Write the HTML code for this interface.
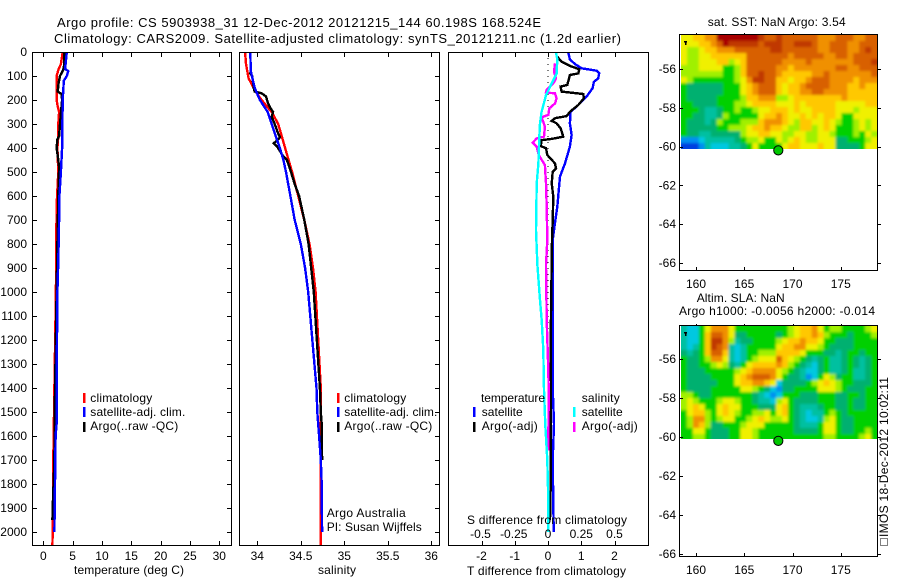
<!DOCTYPE html>
<html lang="en">
<head>
<meta charset="utf-8">
<title>Argo profile</title>
<style>
html,body{margin:0;padding:0;background:#fff}
svg{display:block}
text{font-family:"Liberation Sans",sans-serif;font-size:12px;fill:#000}
.t{font-size:13px}
</style>
</head>
<body>
<svg id="chart" xmlns="http://www.w3.org/2000/svg" width="900" height="580" viewBox="0 0 900 580">
  <defs>
    <filter id="soft" x="-5%" y="-5%" width="110%" height="110%"><feGaussianBlur stdDeviation="1.3"/></filter>
    <clipPath id="clip-sst-map"><rect x="681" y="35" width="196" height="114"/></clipPath>
    <clipPath id="clip-sla-map"><rect x="681" y="326" width="196" height="113"/></clipPath>
  </defs>
  <rect x="0" y="0" width="900" height="580" fill="#fff"/>
  <g id="marks"></g>

  <text class="t" x="57" y="27" textLength="484" lengthAdjust="spacing">Argo profile: CS 5903938_31 12-Dec-2012 20121215_144 60.198S 168.524E</text>
  <text class="t" x="54" y="43" textLength="567" lengthAdjust="spacing">Climatology: CARS2009. Satellite-adjusted climatology: synTS_20121211.nc (1.2d earlier)</text>

  <text x="74" y="574" textLength="110" lengthAdjust="spacing">temperature (deg C)</text>
  <text x="318" y="574" textLength="38" lengthAdjust="spacing">salinity</text>
  <text x="467" y="575" textLength="159" lengthAdjust="spacing">T difference from climatology</text>
  <text x="467" y="524" textLength="160" lengthAdjust="spacing">S difference from climatology</text>

  <g>
    <rect x="83" y="393" width="2.5" height="10" fill="#f00"/>
    <text x="90.3" y="402" textLength="62" lengthAdjust="spacing">climatology</text>
    <rect x="83" y="407" width="2.5" height="10" fill="#00f"/>
    <text x="90.3" y="416" textLength="95" lengthAdjust="spacing">satellite-adj. clim.</text>
    <rect x="83" y="422" width="2.5" height="10" fill="#000"/>
    <text x="90.3" y="430" textLength="88" lengthAdjust="spacing">Argo(..raw -QC)</text>
  </g>
  <g>
    <rect x="337" y="393" width="2.5" height="10" fill="#f00"/>
    <text x="344.3" y="402" textLength="62" lengthAdjust="spacing">climatology</text>
    <rect x="337" y="407" width="2.5" height="10" fill="#00f"/>
    <text x="344.3" y="416" textLength="93" lengthAdjust="spacing">satellite-adj. clim.</text>
    <rect x="337" y="422" width="2.5" height="10" fill="#000"/>
    <text x="344.3" y="430" textLength="88" lengthAdjust="spacing">Argo(..raw -QC)</text>
  </g>
  <text x="326.7" y="517" textLength="79" lengthAdjust="spacing">Argo Australia</text>
  <text x="326.7" y="531" textLength="95" lengthAdjust="spacing">PI: Susan Wijffels</text>

  <g>
    <text x="481" y="402" textLength="64" lengthAdjust="spacing">temperature</text>
    <rect x="473" y="407" width="2.5" height="10" fill="#00f"/>
    <text x="481.7" y="416" textLength="41" lengthAdjust="spacing">satellite</text>
    <rect x="473" y="422" width="2.5" height="10" fill="#000"/>
    <text x="481.7" y="430" textLength="56" lengthAdjust="spacing">Argo(-adj)</text>
    <text x="581.7" y="402" textLength="38" lengthAdjust="spacing">salinity</text>
    <rect x="573" y="407" width="2.5" height="10" fill="#0ff"/>
    <text x="581.7" y="416" textLength="41" lengthAdjust="spacing">satellite</text>
    <rect x="573" y="422" width="2.5" height="10" fill="#f0f"/>
    <text x="581.7" y="430" textLength="56" lengthAdjust="spacing">Argo(-adj)</text>
  </g>

  <text x="707.7" y="26" textLength="138" lengthAdjust="spacing">sat. SST: NaN Argo: 3.54</text>
  <text x="696.7" y="302" textLength="88" lengthAdjust="spacing">Altim. SLA: NaN</text>
  <text x="679" y="315" textLength="196" lengthAdjust="spacing">Argo h1000: -0.0056 h2000: -0.014</text>

  <rect x="880.5" y="538.5" width="7" height="7" fill="#fff" stroke="#000" stroke-width="1" stroke-dasharray="1 1" shape-rendering="crispEdges"/>
  <text transform="translate(888,537) rotate(-90)" x="0" y="0" textLength="160" lengthAdjust="spacing">IMOS 18-Dec-2012 10:02:11</text>
</svg>
<script>
// ---------- tick labels ----------
const depthTicks = [0,100,200,300,400,500,600,700,800,900,1000,1100,1200,1300,1400,1500,1600,1700,1800,1900,2000];
const tempTicks = [0,5,10,15,20,25,30];
const salinityTicks = [34,34.5,35,35.5,36];
const tDiffTicks = [-2,-1,0,1,2];
const sDiffTicks = [-0.5,-0.25,0,0.25,0.5];
const lonTicks = [160,165,170,175];
const latTicks = [-56,-58,-60,-62,-64,-66];

// ---------- temperature profiles ----------
const tempClimDepth = [0,50,75,100,150,200,220,250,300,350,400,500,640,1000,1400,1700,2000,2054];
const tempClimValue = [3.3,3.0,2.55,2.27,2.27,2.27,2.4,2.7,2.55,2.55,2.4,2.55,2.27,2.15,1.9,1.7,1.6,1.55];
const tempSatDepth = [0,50,70,80,100,120,200,300,400,500,600,700,870,1000,1400,1550,1600,1800,2000];
const tempSatValue = [4.0,3.8,3.7,4.25,4.0,3.5,3.3,3.25,3.2,3.0,2.75,2.7,2.55,2.4,2.27,2.27,2.1,2.0,1.9];
const tempArgoDepth = [0,50,75,100,130,165,175,200,270,300,350,365,400,450,480,600,800,1000,1500,1700,1900,1950];
const tempArgoValue = [3.6,3.6,3.4,2.85,2.6,2.45,3.1,3.2,2.95,2.85,2.7,2.4,2.27,2.55,2.7,2.55,2.4,2.27,1.95,1.9,1.6,1.55];

// ---------- salinity profiles ----------
const salClimDepth = [0,50,80,110,130,160,200,250,300,350,400,500,600,700,800,900,1000,1400,2054];
const salClimValue = [33.86,33.87,33.885,33.9,33.93,33.97,34.05,34.165,34.24,34.28,34.32,34.4,34.47,34.54,34.6,34.64,34.67,34.73,34.73];
const salSatDepth = [0,80,120,150,200,250,300,350,400,450,500,600,700,800,900,1000,1400,1500,1600,1700,1800,2000];
const salSatValue = [33.92,33.925,33.95,33.97,34.03,34.12,34.165,34.21,34.26,34.3,34.33,34.38,34.43,34.5,34.55,34.585,34.68,34.69,34.71,34.73,34.74,34.745];
const salArgoDepth = [0,80,90,100,150,165,172,185,210,230,250,270,300,340,355,365,380,395,430,450,480,550,600,700,800,900,1000,1400,1500,1550,1700];
const salArgoValue = [33.92,33.925,33.92,33.94,33.96,33.97,34.05,34.1,34.12,34.145,34.18,34.165,34.2,34.24,34.26,34.24,34.19,34.23,34.29,34.34,34.37,34.43,34.48,34.54,34.59,34.62,34.65,34.72,34.73,34.74,34.745];

// ---------- difference profiles ----------
const tDiffSatDepth = [3,31,50,68,78,89,110,124,151,186,221,249,297,346,394,464,519,644,742,783,1000,1400,1550,1700,2000];
const tDiffSatValue = [0.61,0.66,0.81,1.01,1.46,1.54,1.51,1.38,1.34,1.16,0.91,0.68,0.66,0.71,0.66,0.51,0.36,0.28,0.18,0.14,0.14,0.14,0.18,0.14,0.17];
const tDiffArgoDepth = [17,40,58,72,89,96,137,144,165,175,193,221,249,267,276,287,297,318,353,362,367,392,401,429,464,485,499,547,603,700,783,1000,1200,1400,1600,1800,1950];
const tDiffArgoValue = [0.26,0.41,0.66,0.94,0.91,0.66,0.58,0.38,0.41,1.06,1.08,0.91,0.66,0.56,0.21,0.11,0.26,0.38,0.46,0.11,-0.19,-0.22,-0.06,-0.02,0.21,0.24,0.14,0.11,0.16,0.14,0.12,0.1,0.08,0.09,0.08,0.08,0.06];
const sDiffSatDepth = [3,31,89,131,180,249,297,346,464,547,742,888,1033,1117,1242,1408,1554,1700,1867,2000];
const sDiffSatValue = [0.06,0.07,0.065,0.028,-0.015,-0.048,-0.06,-0.065,-0.0725,-0.085,-0.09,-0.08,-0.06,-0.047,-0.035,-0.03,-0.02,-0.005,0.002,0.002];
const sDiffArgoDepth = [47,82,110,131,158,169,172,193,214,235,262,272,311,353,360,378,394,429,471,547,644,783,888,1117,1325,1408,1660];
const sDiffArgoValue = [0.053,0.045,0.06,0.04,-0.01,-0.015,0.053,0.065,0.053,0.01,0.002,-0.048,-0.023,-0.03,-0.085,-0.115,-0.085,-0.07,-0.023,-0.015,-0.01,-0.005,-0.015,-0.01,0.002,0.005,0.002];

// ---------- map fields (colour class per cell, north row first) ----------
const sstLevels = [
[7,7,8,8,9,9,12,12,12,12,12,12,12,11,10,10,11,10,10,10,10,10,10,9,9,9,10,10,10,9,9,10,10],
[7,7,7,8,8,9,10,12,11,11,11,11,11,10,11,11,11,10,10,11,11,11,10,9,9,10,10,10,9,9,10,10,10],
[7,6,6,7,8,8,9,9,9,10,10,10,10,10,10,11,11,10,10,10,10,10,10,9,9,10,10,10,9,9,10,11,10],
[7,6,6,7,7,8,8,8,8,8,8,10,10,10,10,10,10,10,9,10,10,10,10,10,9,9,10,10,9,10,10,10,10],
[7,6,6,7,7,7,8,8,6,7,8,10,10,10,10,10,10,9,9,9,9,10,9,9,9,9,9,9,9,10,10,10,11],
[6,6,6,7,7,7,7,5,5,6,8,10,10,10,10,10,9,9,8,9,9,9,9,9,9,9,10,10,9,9,10,10,10],
[6,6,6,6,6,6,6,5,5,6,8,10,10,11,10,10,9,8,8,8,8,8,9,9,10,9,9,9,9,9,9,9,10],
[7,6,5,5,5,5,5,5,5,6,7,9,11,11,10,10,8,8,7,8,8,9,10,10,10,9,9,9,9,8,9,9,9],
[5,4,4,4,4,4,4,5,5,5,7,8,9,10,10,10,8,7,8,8,9,10,10,10,10,9,9,9,8,8,9,8,8],
[5,4,4,4,4,4,4,5,5,5,7,8,9,10,10,10,8,7,8,8,9,9,10,10,9,9,9,9,8,8,8,8,8],
[5,4,4,4,4,4,5,5,5,5,6,8,8,9,9,9,6,6,7,8,8,8,8,8,8,8,8,9,8,8,8,8,8],
[5,5,4,4,4,4,5,5,5,6,6,7,8,8,8,8,7,7,7,8,7,8,8,8,8,8,7,7,7,7,7,8,8],
[5,5,5,4,3,3,4,5,5,6,5,5,6,7,7,8,8,8,7,8,7,7,8,8,8,8,7,7,7,6,7,7,7],
[5,5,4,4,3,3,4,6,5,5,5,5,5,7,8,8,9,8,7,7,8,7,8,7,8,8,7,5,5,7,7,7,7],
[5,4,4,4,3,4,6,5,5,5,6,6,6,8,9,9,9,8,7,6,8,8,7,7,8,7,6,5,5,6,7,6,7],
[5,4,4,4,4,4,5,5,6,6,6,7,8,8,9,8,8,7,6,6,8,8,6,7,8,7,5,5,5,6,7,6,7],
[5,4,4,3,3,4,4,4,4,4,6,7,7,8,8,7,7,6,6,7,7,6,6,7,7,6,5,5,5,6,5,7,6],
[1,1,1,2,3,3,3,3,3,4,5,6,6,7,5,5,7,6,7,8,7,6,6,7,7,7,4,4,5,5,5,6,7],
[0,0,0,1,3,2,2,2,3,3,4,5,7,5,5,5,5,7,8,8,7,7,7,8,7,7,4,4,4,4,5,7,7]
];
const slaLevels = [
[3,2,2,5,7,9,9,9,7,5,5,5,5,5,5,5,5,5,6,7,8,8,9,7,5,6,6,5,5,5,5,6,7],
[3,2,2,5,8,10,10,9,7,4,4,5,5,5,5,5,4,5,6,7,8,8,9,8,6,5,5,5,4,5,5,5,6],
[3,2,2,5,8,11,11,9,6,3,4,4,5,5,5,5,6,7,8,8,9,8,8,7,5,5,4,4,4,5,5,5,5],
[3,2,3,5,8,11,10,9,3,2,3,5,5,5,5,5,7,8,8,9,9,7,7,6,5,4,4,4,4,5,5,5,5],
[4,3,4,5,8,10,10,8,3,2,3,5,5,6,6,6,8,8,8,8,7,5,5,5,4,4,3,4,5,5,4,5,5],
[5,4,4,5,6,9,9,7,3,2,3,5,6,7,7,7,10,8,7,6,5,4,3,4,5,3,3,4,5,4,3,4,5],
[5,4,4,5,5,6,7,6,4,3,5,7,8,8,8,8,9,8,6,5,4,3,2,4,5,3,3,4,5,4,3,4,5],
[5,4,4,4,5,5,5,5,5,6,7,8,9,9,9,9,7,6,5,4,3,2,2,4,5,3,3,4,5,3,3,4,5],
[5,4,4,4,4,5,5,5,5,7,8,9,10,10,10,9,7,5,4,4,3,1,2,5,7,6,4,5,5,3,3,4,5],
[5,4,4,4,4,4,5,5,5,7,8,8,9,9,8,7,2,4,4,4,4,5,6,7,8,7,6,5,5,4,4,4,5],
[5,4,4,4,4,5,5,5,5,5,7,7,6,5,4,2,1,4,4,5,5,5,5,7,7,7,6,5,4,4,4,5,5],
[6,6,5,4,4,5,5,5,5,5,5,5,4,3,2,1,2,5,5,5,4,4,4,5,5,5,4,4,5,5,4,5,5],
[6,7,6,5,5,5,6,7,7,6,5,5,4,3,3,2,6,7,5,4,4,4,4,5,5,5,4,4,5,4,4,5,5],
[6,7,8,7,5,5,7,8,7,7,5,5,5,4,4,4,7,8,5,4,3,3,3,4,5,5,4,4,5,4,4,5,5],
[5,7,8,8,6,5,7,8,7,6,5,5,6,6,7,5,7,8,5,4,3,2,3,3,5,6,5,4,5,5,5,5,5],
[5,6,9,9,6,5,6,7,7,5,5,6,7,8,7,6,6,7,5,4,3,2,2,3,6,7,5,4,4,5,5,5,5],
[5,6,9,8,6,4,4,5,5,5,6,7,7,7,5,5,5,5,5,4,3,3,3,5,7,7,5,4,4,5,5,5,5],
[5,5,7,7,5,4,4,4,5,5,7,7,6,5,5,5,5,5,5,4,4,4,4,5,7,7,5,4,4,5,5,6,5],
[5,5,6,6,5,4,4,4,5,5,7,7,6,5,5,5,5,5,5,5,5,5,5,5,6,6,5,5,5,5,6,7,5]
];
const argoLon = [168.524];
const argoLat = [-60.198];

// ---------- drawing helpers ----------
const SVG_NS = 'http://www.w3.org/2000/svg';
const root = document.getElementById('marks');
const palette = ['#0040e0','#0090f0','#00c8e0','#00c0a0','#00b070','#00d000','#a0f000','#f0f000','#ffc800','#f09000','#d86000','#c03800','#a80000'];

function makeIn(parent, tag, name, attrs) {
  const el = document.createElementNS(SVG_NS, tag);
  
  
  for (const k in attrs) el.setAttribute(k, attrs[k]);
  parent.appendChild(el);
  return el;
}
function make(tag, name, attrs) {
  return makeIn(root, tag, name, attrs);
}
function seg(name, x1, y1, x2, y2) {
  return make('line', name, {x1, y1, x2, y2, stroke:'#000', 'stroke-width':1, 'shape-rendering':'crispEdges'});
}
function label(name, str, x, y, anchor) {
  const el = make('text', name, {x, y, 'text-anchor':anchor});
  el.textContent = str;
  return el;
}
function frame(name, x, y, w, h) {
  make('rect', name, {x, y, width:w, height:h, fill:'none', stroke:'#000', 'stroke-width':1, 'shape-rendering':'crispEdges'});
}
function profile(name, depths, values, xs, ys, color) {
  const pts = depths.map((d, i) => xs(values[i]).toFixed(1) + ',' + ys(d).toFixed(1)).join(' ');
  make('polyline', name, {points:pts, fill:'none', stroke:color, 'stroke-width':2.4, 'stroke-linejoin':'miter', 'shape-rendering':'crispEdges'});
}

// ---------- axis scales ----------
const depthY = d => 52 + d * 0.24;
const tempX = t => 43.3 + t * 5.867;
const salX = s => 344.3 + (s - 35) * 87;
const tDiffX = v => 548 + v * 33.25;
const sDiffX = v => 548 + v * 133;

// ---------- temperature panel ----------
profile('temperature-climatology-line', tempClimDepth, tempClimValue, tempX, depthY, '#f00');
profile('temperature-argo-line', tempArgoDepth, tempArgoValue, tempX, depthY, '#000');
profile('temperature-satellite-line', tempSatDepth, tempSatValue, tempX, depthY, '#00f');
frame('temperature-panel-frame', 32.5, 52.5, 199, 493);
depthTicks.forEach(d => {
  const y = Math.round(depthY(d)) + 0.5;
  seg('depth-tick', 32.5, y, 37, y);
  seg('depth-tick-right', 227, y, 231.5, y);
  label('depth-tick-label', String(d), 27, depthY(d) + 4, 'end');
});
tempTicks.forEach(t => {
  const x = Math.round(tempX(t)) + 0.5;
  seg('temperature-tick-top', x, 52.5, x, 57);
  seg('temperature-tick-bottom', x, 541, x, 545.5);
  label('temperature-tick-label', String(t), tempX(t), 560, 'middle');
});

// ---------- salinity panel ----------
profile('salinity-climatology-line', salClimDepth, salClimValue, salX, depthY, '#f00');
profile('salinity-argo-line', salArgoDepth, salArgoValue, salX, depthY, '#000');
profile('salinity-satellite-line', salSatDepth, salSatValue, salX, depthY, '#00f');
frame('salinity-panel-frame', 239.5, 52.5, 200, 493);
depthTicks.forEach(d => {
  const y = Math.round(depthY(d)) + 0.5;
  seg('salinity-depth-tick-right', 435, y, 439.5, y);
});
salinityTicks.forEach(s => {
  const x = Math.round(salX(s)) + 0.5;
  seg('salinity-tick-top', x, 52.5, x, 57);
  seg('salinity-tick-bottom', x, 541, x, 545.5);
  label('salinity-tick-label', String(s), salX(s), 560, 'middle');
});

// ---------- difference panel ----------
make('line', 'zero-difference-dotted-line', {x1:tDiffX(0), y1:depthY(0), x2:tDiffX(0), y2:depthY(1180), stroke:'#000', 'stroke-width':1.2, 'stroke-dasharray':'1.2 4.8', 'shape-rendering':'crispEdges'});
profile('t-difference-satellite-line', tDiffSatDepth, tDiffSatValue, tDiffX, depthY, '#00f');
profile('t-difference-argo-line', tDiffArgoDepth, tDiffArgoValue, tDiffX, depthY, '#000');
profile('s-difference-argo-line', sDiffArgoDepth, sDiffArgoValue, sDiffX, depthY, '#f0f');
profile('s-difference-satellite-line', sDiffSatDepth, sDiffSatValue, sDiffX, depthY, '#0ff');
frame('difference-panel-frame', 448.5, 52.5, 200, 493);
tDiffTicks.forEach(v => {
  const x = Math.round(tDiffX(v)) + 0.5;
  seg('t-difference-tick-top', x, 52.5, x, 57);
  seg('t-difference-tick-bottom', x, 541, x, 545.5);
  label('t-difference-tick-label', String(v), tDiffX(v), 560, 'middle');
});
sDiffTicks.forEach(v => {
  label('s-difference-tick-label', String(v), sDiffX(v) - (v < 0 ? 1 : 0), 538, 'middle');
});

// ---------- maps ----------
const lonX = lon => 696 + (lon - 160) * 9.65;
function drawMap(prefix, levels, latY, top, bottom) {
  const lon0 = 158.45, lonStep = 0.6155;
  const nRows = levels.length, nCols = levels[0].length;
  const clipGroup = make('g', prefix + '-field-clip', {'clip-path':'url(#clip-' + prefix + ')'});
  const blurGroup = makeIn(clipGroup, 'g', prefix + '-field', {filter:'url(#soft)'});
  // Edge cells are repeated just outside the clip so the smoothing does not fade at the border.
  for (let r = -2; r < nRows + 2; r++) {
    const row = levels[Math.max(0, Math.min(nRows - 1, r))];
    for (let c = -2; c < nCols + 2; c++) {
      const level = row[Math.max(0, Math.min(nCols - 1, c))];
      const x = lonX(lon0 + c * lonStep);
      const x2 = lonX(lon0 + (c + 1) * lonStep);
      const yA = top + 1 + r * 6;
      makeIn(blurGroup, 'rect', prefix + '-cell', {x:x.toFixed(2), y:yA, width:(x2 - x + 0.5).toFixed(2), height:6.5, fill:palette[level]});
    }
  }
  frame(prefix + '-frame', 679.5, top + 0.5, 198, bottom - top);
  lonTicks.forEach(lon => {
    const x = Math.round(lonX(lon)) + 0.5;
    seg(prefix + '-lon-tick-top', x, top - 1, x, top + 0.5);
    seg(prefix + '-lon-tick-bottom', x, bottom - 3, x, bottom + 0.5);
    label(prefix + '-lon-tick-label', String(lon), lonX(lon), bottom + 18, 'middle');
  });
  latTicks.forEach(lat => {
    const y = Math.round(latY(lat)) + 0.5;
    seg(prefix + '-lat-tick-left', 679.5, y, 683, y);
    seg(prefix + '-lat-tick-right', 877.5, y, 881, y);
    label(prefix + '-lat-tick-label', String(lat), 676, latY(lat) + 4, 'end');
  });
  make('rect', prefix + '-corner-mark', {x:684, y:top + 7, width:3, height:1.5, fill:'#000', 'shape-rendering':'crispEdges'});
  make('rect', prefix + '-corner-mark-stem', {x:685, y:top + 8, width:1.5, height:3, fill:'#000', 'shape-rendering':'crispEdges'});
  argoLon.forEach((lon, i) => {
    make('circle', prefix + '-argo-position', {cx:lonX(lon).toFixed(1), cy:latY(argoLat[i]).toFixed(1), r:4.6, fill:'#00c800', stroke:'#000', 'stroke-width':1});
  });
}
drawMap('sst-map', sstLevels, lat => 69 + (-56 - lat) * 19.4, 34, 270);
drawMap('sla-map', slaLevels, lat => 359 + (-56 - lat) * 19.5, 325, 556);
</script>
</body>
</html>
